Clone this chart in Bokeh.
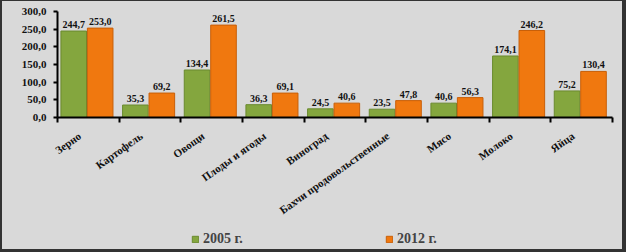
import math
from bokeh.plotting import figure
from bokeh.layouts import column
from bokeh.models import (ColumnDataSource, FixedTicker, Legend, LegendItem, Range1d)
from bokeh.transform import dodge
from bokeh.core.properties import value
from bokeh.embed import file_html
from bokeh.resources import INLINE

categories = ["Зерно", "Картофель", "Овощи", "Плоды и ягоды", "Виноград",
              "Бахчи продовольственные", "Мясо", "Молоко", "Яйца"]
series_2005 = [244.7, 35.3, 134.4, 36.3, 24.5, 23.5, 40.6, 174.1, 75.2]
series_2012 = [253.0, 69.2, 261.5, 69.1, 40.6, 47.8, 56.3, 246.2, 130.4]
y_ticks = [0, 50, 100, 150, 200, 250, 300]
series_names = ["2005 г.", "2012 г."]

def fmt(v):
    return f"{v:.1f}".replace(".", ",")

idx = list(range(len(categories)))
src = ColumnDataSource(dict(
    x=idx,
    v05=series_2005, v12=series_2012,
    l05=[fmt(v) for v in series_2005], l12=[fmt(v) for v in series_2012],
))

BG = "#d9d9d9"
GREEN = "#84a63e"
ORANGE = "#f0780f"
FONT = "Liberation Serif"
W = 620
LABEL_SHIFT = 0.14   # rotated category labels end near the category centre

p = figure(width=W, height=222, output_backend="svg", toolbar_location=None,
           x_range=Range1d(-0.5, len(categories) - 0.5), y_range=Range1d(0, 300),
           min_border_left=55, min_border_right=10, min_border_top=10,
           min_border_bottom=105)
p.background_fill_color = BG
p.border_fill_color = BG
p.outline_line_color = None
p.grid.visible = False

bw = 0.415
r05 = p.vbar(x=dodge("x", -0.237, range=p.x_range), top="v05", width=bw,
             source=src, fill_color=GREEN, line_color="#6a8a2e", line_width=1)
r12 = p.vbar(x=dodge("x", 0.192, range=p.x_range), top="v12", width=bw,
             source=src, fill_color=ORANGE, line_color="#c85f08", line_width=1)

for off, col in ((-0.237, "l05"), (0.192, "l12")):
    y = "v05" if col == "l05" else "v12"
    p.text(x=dodge("x", off, range=p.x_range), y=y, text=col, source=src,
           text_align="center", text_baseline="bottom", y_offset=-3,
           text_font=value(FONT), text_font_style="bold",
           text_font_size="10px", text_color="#111111")

# y axis
ya = p.yaxis[0]
ya.ticker = FixedTicker(ticks=y_ticks)
ya.major_label_overrides = {t: fmt(t) for t in y_ticks}
ya.major_label_text_font = FONT
ya.major_label_text_font_style = "bold"
ya.major_label_text_font_size = "11px"
ya.major_label_text_color = "#111111"
ya.major_tick_out = 4
ya.major_tick_in = 0
ya.minor_tick_line_color = None
ya.axis_line_width = 2
ya.major_tick_line_width = 2
ya.major_label_standoff = 7

# x axis
label_ticks = [i - LABEL_SHIFT for i in idx]
xa = p.xaxis[0]
xa.ticker = FixedTicker(ticks=label_ticks,
                        minor_ticks=[i - 0.5 for i in range(len(categories) + 1)])
xa.major_label_overrides = {t: c for t, c in zip(label_ticks, categories)}
xa.major_tick_line_color = None
xa.minor_tick_out = 5
xa.minor_tick_in = 0
xa.minor_tick_line_width = 2
xa.minor_tick_line_color = "black"
xa.axis_line_width = 2
xa.major_label_orientation = 0.62
xa.major_label_text_font = FONT
xa.major_label_text_font_style = "bold"
xa.major_label_text_font_size = "11px"
xa.major_label_text_color = "#111111"
xa.major_label_standoff = 11

# legend strip: a small figure whose (out-of-view) bars carry the series styles
p2 = figure(width=W, height=26, output_backend="svg", toolbar_location=None,
            x_range=Range1d(-0.5, len(categories) - 0.5), y_range=Range1d(1000, 1001),
            min_border=0, x_axis_location=None, y_axis_location=None)
p2.background_fill_color = BG
p2.border_fill_color = BG
p2.outline_line_color = None
p2.grid.visible = False
g05 = p2.vbar(x="x", top="v05", width=bw, source=src, fill_color=GREEN, line_color="#6a8a2e")
g12 = p2.vbar(x="x", top="v12", width=bw, source=src, fill_color=ORANGE, line_color="#c85f08")
for r, name, loc in ((g05, series_names[0], (134, 2)), (g12, series_names[1], (328, 2))):
    lg = Legend(items=[LegendItem(label=name, renderers=[r])], location=loc,
                glyph_width=8, glyph_height=8,
                label_text_font=FONT, label_text_font_style="bold",
                label_text_font_size="14px", label_standoff=4,
                padding=2, margin=0, spacing=0,
                background_fill_alpha=0, border_line_color=None)
    p2.add_layout(lg)

layout = column(p, p2, spacing=0)
layout.styles = {"border-style": "solid", "border-color": "#333333",
                 "border-width": "1px 4px 3px 2px", "background-color": BG}

open("out.html", "w").write(file_html(layout, INLINE))
